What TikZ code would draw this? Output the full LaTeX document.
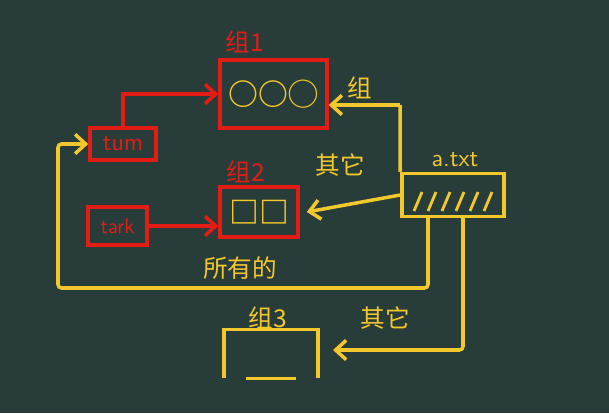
\documentclass[tikz,border=0pt]{standalone}
\usepackage{fontspec}
\newfontfamily\cjk{Noto Sans CJK SC}
\usetikzlibrary{arrows.meta}
\definecolor{board}{RGB}{40,60,57}
\definecolor{chalkred}{RGB}{228,28,22}
\definecolor{chalkyel}{RGB}{242,200,44}
\tikzstyle{redbox}=[draw=chalkred, line width=2pt, inner sep=0pt]
\tikzstyle{yelbox}=[draw=chalkyel, line width=2pt, inner sep=0pt]
\tikzstyle{redline}=[draw=chalkred, line width=2pt, -{Straight Barb[length=6pt,width=11pt]}]
\tikzstyle{yelline}=[draw=chalkyel, line width=2pt, -{Straight Barb[length=6pt,width=11pt]}]
\tikzstyle{redtext}=[text=chalkred, font=\cjk\fontsize{14}{16}\selectfont]
\tikzstyle{yeltext}=[text=chalkyel, font=\cjk\fontsize{14}{16}\selectfont]

\begin{document}
\begin{tikzpicture}[x=0.02cm, y=-0.02cm]
	\fill[board] (0,0) rectangle (609,413);
	% boxes
	\node [style=redbox, minimum width=2.14cm, minimum height=1.36cm] (box1) at (273.5,94) {};
	\node [style=redbox, minimum width=1.32cm, minimum height=0.64cm] (tum) at (123,144) {};
	\node [style=redbox, minimum width=1.56cm, minimum height=1.0cm] (box2) at (259,212) {};
	\node [style=redbox, minimum width=1.18cm, minimum height=0.76cm] (tark) at (117.5,226) {};
	\node [style=yelbox, minimum width=2.04cm, minimum height=0.86cm] (file) at (453,195) {};
	\node [minimum width=1.86cm, minimum height=0.96cm, inner sep=0pt] (box3) at (271,354) {};
	% texts
	\node [style=yeltext, font=\cjk\bfseries\fontsize{17}{19}\selectfont] (e1) at (box1) {○○◯};
	\node [style=yeltext, font=\cjk\bfseries\fontsize{17}{19}\selectfont] (e2) at (box2) {□□};
	\node [style=redtext, font=\sffamily\fontsize{14}{16}\selectfont] (t1) at (tum) {tum};
	\node [style=redtext, font=\sffamily\fontsize{12}{14}\selectfont] (t2) at (tark) {tark};
	\node [style=redtext] (l1) at (245,42) {组1};
	\node [style=redtext] (l2) at (246,172) {组2};
	\node [style=yeltext] (l3) at (268,318) {组3};
	\node [style=yeltext, font=\sffamily\fontsize{14}{16}\selectfont] (fn) at (455,160) {a.txt};
	\node [style=yeltext] (q1) at (360,88) {组};
	\node [style=yeltext] (q2) at (340,165) {其它};
	\node [style=yeltext] (q3) at (240,268) {所有的};
	\node [style=yeltext] (q4) at (385,318) {其它};
	% points
	\coordinate (j1) at (400,105);
	\coordinate (c1) at (428,217);
	\coordinate (c2) at (58,288);
	\coordinate (c3) at (463,217);
	\coordinate (c4) at (333,350);
	% connectors
	\draw [style=redline] (tum.north) |- (box1.west);
	\draw [style=redline] (tark.east) -- (tark.east -| box2.west);
	\draw [style=yelline] (j1) -- (j1 -| box1.east);
	\draw [draw=chalkyel, line width=2pt] (j1) -- (file.north west);
	\draw [style=yelline] (file.west) -- ([xshift=4pt]box2.east);
	\draw [style=yelline, rounded corners=2pt] (c1) |- (c2) |- (tum.west);
	\draw [style=yelline, rounded corners=2pt] (c3) |- (c4);
	% open box 3
	\draw [draw=chalkyel, line width=2pt] (box3.south west) -- (box3.north west) -- (box3.north east) -- (box3.south east);
	\draw [draw=chalkyel, line width=2pt] ([xshift=-0.5cm]box3.south) -- ([xshift=0.5cm]box3.south);
	% hatching
	\foreach \i in {0,...,5}
		\draw [draw=chalkyel, line width=1.6pt] (414+14*\i,211) -- ++(8,-19);
\end{tikzpicture}
\end{document}
